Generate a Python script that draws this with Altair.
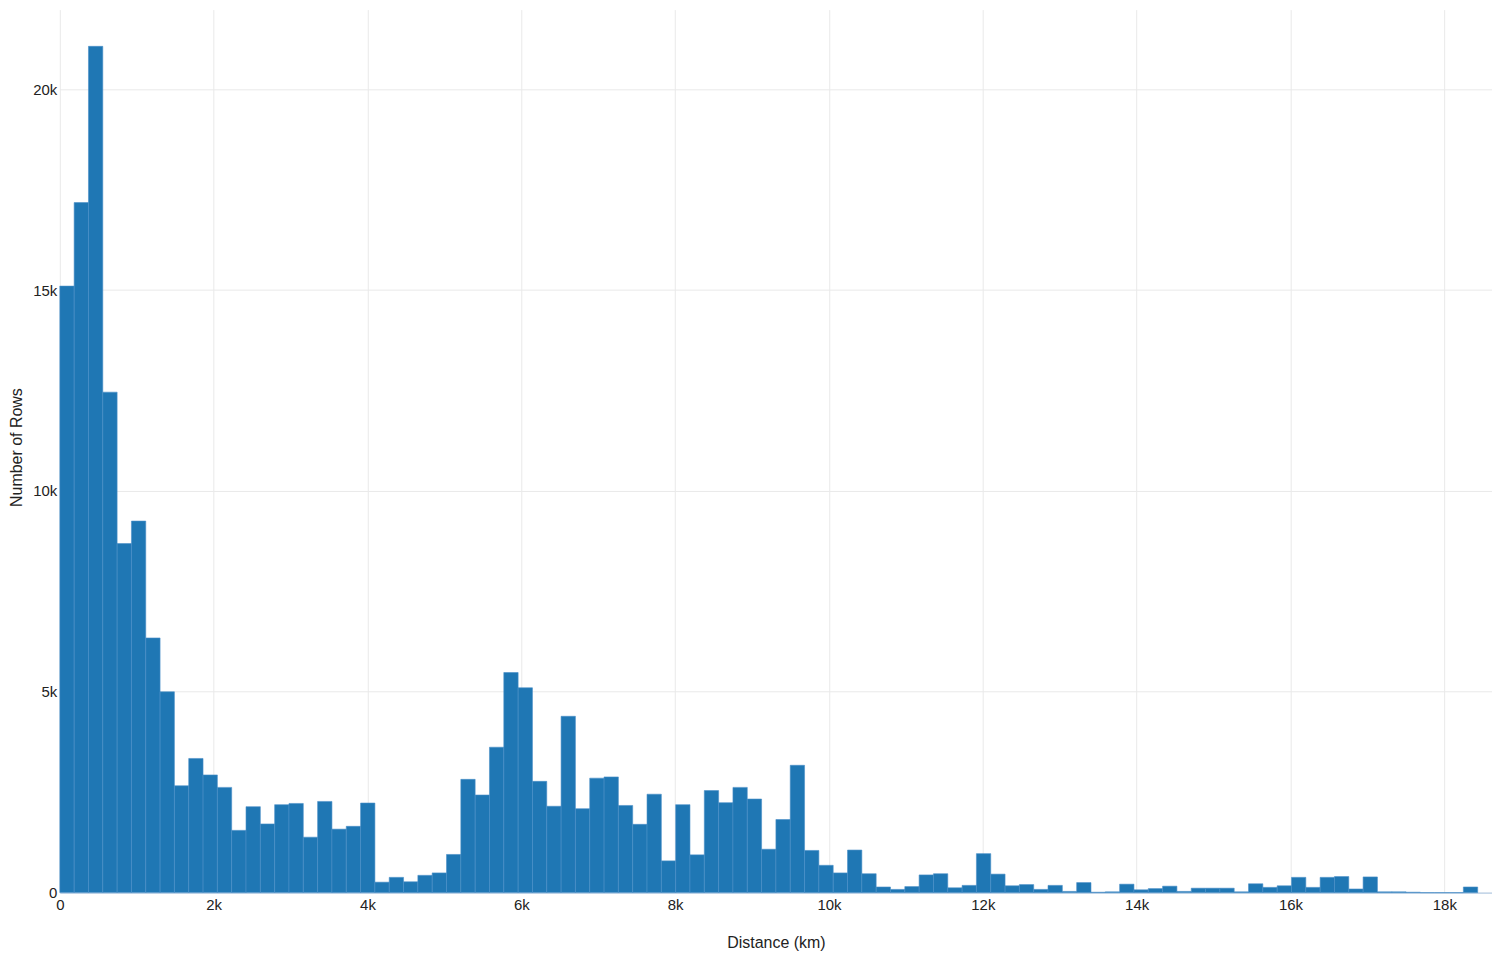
import altair as alt
import pandas as pd

# Histogram of distances (km): bin width and counts per bin
bin_width = 186.2
counts = [
    15100, 17180, 21070, 12460, 8690, 9250, 6340, 5000, 2660, 3340,
    2930, 2620, 1550, 2140, 1710, 2190, 2220, 1380, 2270, 1580,
    1650, 2230, 260, 380, 270, 430, 490, 950, 2820, 2430,
    3620, 5480, 5100, 2770, 2150, 4390, 2090, 2850, 2880, 2170,
    1700, 2450, 790, 2190, 940, 2540, 2240, 2620, 2330, 1080,
    1820, 3170, 1050, 680, 490, 1060, 470, 140, 80, 150,
    440, 470, 120, 180, 970, 460, 170, 200, 80, 180,
    30, 250, 10, 20, 210, 70, 100, 160, 30, 110,
    110, 110, 20, 220, 130, 170, 380, 130, 380, 400,
    90, 390, 20, 20, 10, 0, 0, 0, 140,
]
x_domain = [0, 18620]
y_domain = [0, 21985]
x_ticks = [0, 2000, 4000, 6000, 8000, 10000, 12000, 14000, 16000, 18000]
y_ticks = [0, 5000, 10000, 15000, 20000]

df = pd.DataFrame({
    "start": [i * bin_width for i in range(len(counts))],
    "end": [(i + 1) * bin_width for i in range(len(counts))],
    "count": counts,
})

FONT = "Liberation Sans"
kfmt = "datum.value == 0 ? '0' : format(datum.value / 1000, 'd') + 'k'"

chart = alt.Chart(df).mark_rect(
    color="#1f77b4", stroke="#4a8fc7", strokeWidth=0.6
).encode(
    x=alt.X("start:Q",
            scale=alt.Scale(domain=x_domain, nice=False, zero=False),
            axis=alt.Axis(values=x_ticks, labelExpr=kfmt, title="Distance (km)",
                          grid=True, gridColor="#e9e9e9", gridWidth=1,
                          domainColor="#a9c6e3", domainWidth=1,
                          ticks=False, labelPadding=5, labelFlush=False,
                          labelFont=FONT, labelFontSize=15, labelColor="#222222",
                          titleFont=FONT, titleFontSize=16, titleFontWeight="normal",
                          titleColor="#222222", titleBaseline="middle", titleY=50)),
    x2="end:Q",
    y=alt.Y("count:Q",
            scale=alt.Scale(domain=y_domain, nice=False),
            axis=alt.Axis(values=y_ticks, labelExpr=kfmt, title="Number of Rows",
                          grid=True, gridColor="#e9e9e9", gridWidth=1,
                          domain=False, ticks=False, labelPadding=3, labelFlush=False,
                          labelFont=FONT, labelFontSize=15, labelColor="#222222",
                          titleFont=FONT, titleFontSize=16, titleFontWeight="normal",
                          titleColor="#222222", titleBaseline="middle",
                          titleX=-43, titleY=439)),
    y2=alt.datum(0),
).properties(
    width=1437,
    height=886,
    autosize=alt.AutoSizeParams(type="none"),
    padding={"left": 52, "top": 0, "right": 0, "bottom": 59},
    background="white",
).configure_view(stroke=None, strokeWidth=0)

chart.save("out.html", embed_options={"renderer": "svg", "actions": False})
